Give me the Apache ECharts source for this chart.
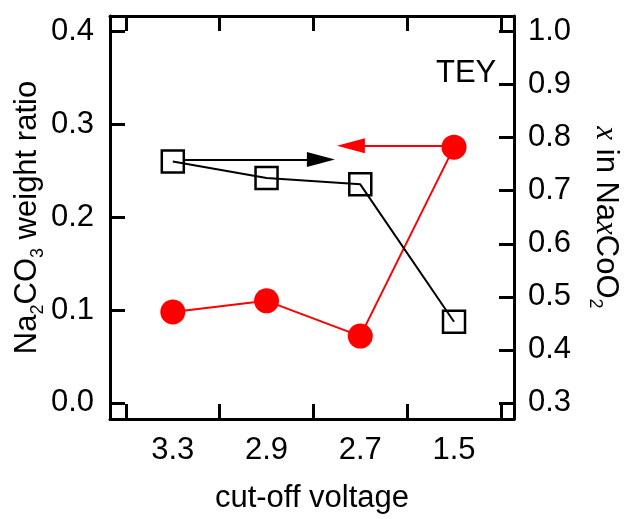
<!DOCTYPE html>
<html>
<head>
<meta charset="utf-8">
<script src="https://cdn.jsdelivr.net/npm/echarts@6/dist/echarts.min.js"></script>
<style>
  html, body { margin: 0; padding: 0; background: #fff; }
  #chart { width: 629px; height: 519px; }
</style>
</head>
<body>
<div id="chart"></div>
<script>
// cut-off voltages, placed at x = 1..4
var voltages = ['3.3', '2.9', '2.7', '1.5']
var xPos = [1, 2, 3, 4]
// Na2CO3 weight ratio (left axis, red circles)
var weightRatio = [0.098, 0.110, 0.072, 0.2755]
// x in NaxCoO2 (right axis, open squares)
var naContent = [0.755, 0.724, 0.712, 0.453]
var leftTicks = [0, 0.1, 0.2, 0.3, 0.4]
var rightTicks = [0.3, 0.4, 0.5, 0.6, 0.7, 0.8, 0.9, 1.0]
var xTicks = [0.5, 1.5, 2.5, 3.5, 4.5]

var FONT = 'Liberation Sans, Arial, sans-serif'

function pairs (ys) {
  return xPos.map(function (x, i) { return [x, ys[i]] })
}

var frameLine = { show: true, onZero: false, lineStyle: { color: '#000', width: 3 } }
var tickStyle = { color: '#000', width: 3 }
var labelStyle = { color: '#000', fontSize: 31, fontFamily: FONT }
var subRich = {
  m: { fontSize: 31, fontFamily: FONT, color: '#000', lineHeight: 31, verticalAlign: 'top' },
  s: { fontSize: 18, fontFamily: FONT, color: '#000', lineHeight: 18, padding: [17, 0, 0, 0], verticalAlign: 'top' },
  i: { fontSize: 31, fontFamily: 'Liberation Serif, Times New Roman, serif', fontStyle: 'italic', color: '#000', lineHeight: 31, verticalAlign: 'top' }
}

var chart = echarts.init(document.getElementById('chart'))

var option = {
  animation: false,
  backgroundColor: '#fff',
  grid: { left: 110, right: 107, top: 16, bottom: 89 },
  xAxis: [{
    type: 'value',
    position: 'bottom',
    min: 0.33,
    max: 4.64,
    axisLine: frameLine,
    axisTick: { show: true, inside: true, length: 15, lineStyle: tickStyle, customValues: xTicks },
    axisLabel: Object.assign({
      margin: 16,
      customValues: xPos,
      formatter: function (v) { return voltages[Math.round(v) - 1] }
    }, labelStyle),
    splitLine: { show: false },
    name: 'cut-off voltage',
    nameLocation: 'middle',
    nameGap: 64,
    nameMoveOverlap: false,
    nameTextStyle: labelStyle
  }, {
    type: 'value',
    position: 'top',
    min: 0.33,
    max: 4.64,
    axisLine: frameLine,
    axisTick: { show: true, inside: true, length: 15, lineStyle: tickStyle, customValues: xTicks },
    axisLabel: { show: false },
    splitLine: { show: false }
  }],
  yAxis: [{
    type: 'value',
    position: 'left',
    min: -0.0173,
    max: 0.4168,
    axisLine: frameLine,
    axisTick: { show: true, inside: true, length: 15, lineStyle: tickStyle, customValues: leftTicks },
    axisLabel: Object.assign({
      margin: 16,
      customValues: leftTicks,
      formatter: function (v) { return v.toFixed(1) }
    }, labelStyle),
    splitLine: { show: false },
    name: '{m|Na}{s|2}{m|CO}{s|3}{m| weight ratio}',
    nameLocation: 'middle',
    nameRotate: 90,
    nameGap: 67,
    nameMoveOverlap: false,
    nameTextStyle: { rich: subRich }
  }, {
    type: 'value',
    position: 'right',
    min: 0.2697,
    max: 1.0294,
    axisLine: frameLine,
    axisTick: { show: true, inside: true, length: 15, lineStyle: tickStyle, customValues: rightTicks },
    axisLabel: Object.assign({
      margin: 14,
      customValues: rightTicks,
      formatter: function (v) { return v.toFixed(1) }
    }, labelStyle),
    splitLine: { show: false },
    name: '{i|x}{m| in Na}{i|x}{m|CoO}{s|2}',
    nameLocation: 'middle',
    nameRotate: -90,
    nameGap: 76,
    nameMoveOverlap: false,
    nameTextStyle: { rich: subRich }
  }],
  graphic: [{
    type: 'text',
    left: 436,
    top: 58,
    style: { text: 'TEY', font: '31px ' + FONT, fill: '#000' }
  }],
  series: [{
    name: 'weight ratio',
    type: 'line',
    xAxisIndex: 0,
    yAxisIndex: 0,
    data: pairs(weightRatio),
    symbol: 'circle',
    symbolSize: 25,
    itemStyle: { color: '#ff0000' },
    lineStyle: { color: '#ff0000', width: 2 },
    markLine: {
      silent: true,
      label: { show: false },
      lineStyle: { color: '#ff0000', width: 2, type: 'solid' },
      data: [[
        { coord: [4, 0.277], symbol: 'none' },
        { coord: [2.9, 0.277], symbol: 'triangle', symbolSize: [15, 28] }
      ]]
    }
  }, {
    name: 'x',
    type: 'line',
    xAxisIndex: 0,
    yAxisIndex: 1,
    data: pairs(naContent),
    symbol: 'rect',
    symbolSize: 22,
    itemStyle: { color: 'rgba(0,0,0,0)', borderColor: '#000', borderWidth: 2.5 },
    lineStyle: { color: '#000', width: 2 },
    markLine: {
      silent: true,
      label: { show: false },
      lineStyle: { color: '#000', width: 2, type: 'solid' },
      data: [[
        { coord: [1.125, 0.759], symbol: 'none' },
        { coord: [2.58, 0.759], symbol: 'triangle', symbolSize: [15, 28] }
      ]]
    }
  }]
}

chart.setOption(option)
</script>
</body>
</html>
